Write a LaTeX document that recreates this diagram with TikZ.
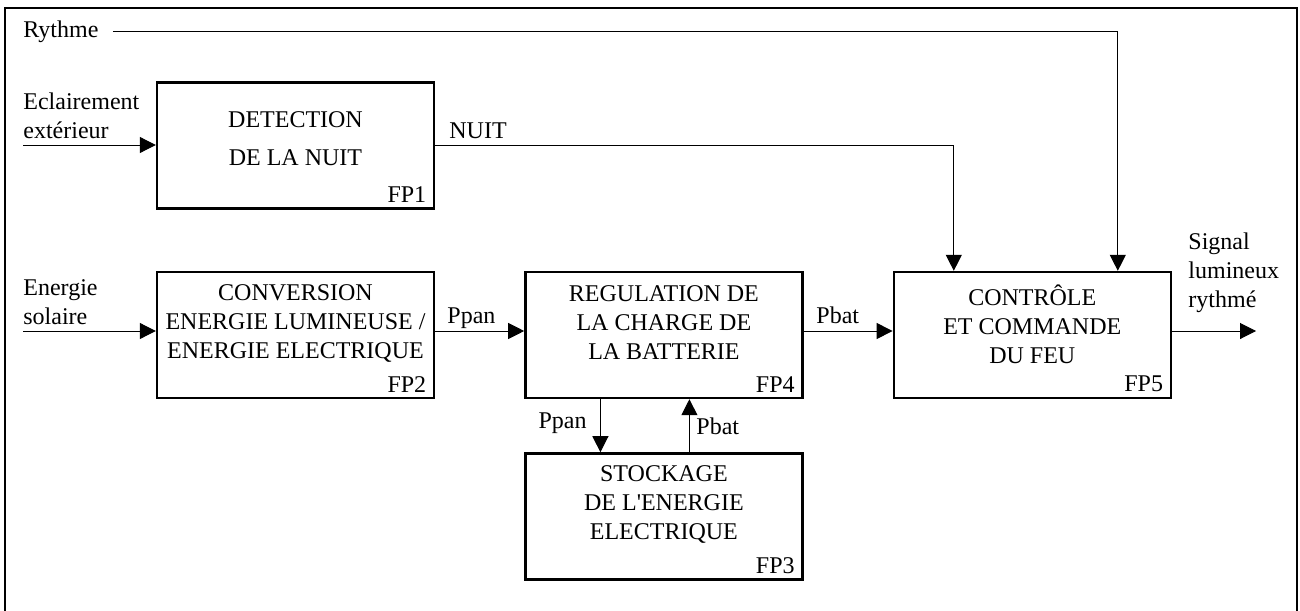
\documentclass[tikz,border=0pt]{standalone}
\usepackage{fontspec}
\setmainfont{Liberation Serif}
\usetikzlibrary{arrows.meta, positioning}

\begin{document}
\begin{tikzpicture}[x=0.5pt, y=-0.5pt, node distance=44.5pt,
  font=\fontsize{12}{14.5}\selectfont,
  box/.style={
    rectangle, draw, line width=1.2pt,
    minimum width=138.5pt, minimum height=63pt
  },
  boxtxt/.style={align=center, inner sep=0pt},
  tag/.style={anchor=south east, inner sep=3.3pt, xshift=-1pt},
  lbl/.style={align=left, inner sep=0pt},
  arr/.style={-{Triangle[length=8pt, width=8pt]}, line width=0.5pt}
]
  \useasboundingbox (0,0) rectangle (1300,610);
  \draw[line width=1.4pt] (5,8) rectangle (1297,616);

  % blocs fonctionnels
  \node[box] (fp2) at (295.5,335) {};
  \node[box, above=30.5pt of fp2] (fp1) {};
  \node[box, right=of fp2] (fp4) {};
  \node[box, below=26.5pt of fp4] (fp3) {};
  \node[box, right=of fp4] (fp5) {};

  \node[boxtxt] (fp1t) at ([yshift=3.5pt]fp1.center) {DETECTION\\[4.5pt]DE LA NUIT};
  \node[boxtxt] (fp2t) at ([yshift=6pt]fp2.center) {CONVERSION\\ENERGIE LUMINEUSE /\\ENERGIE ELECTRIQUE};
  \node[boxtxt] (fp4t) at ([yshift=6pt]fp4.center) {REGULATION DE\\LA CHARGE DE\\LA BATTERIE};
  \node[boxtxt] (fp3t) at ([yshift=6pt]fp3.center) {STOCKAGE\\DE L\textquotesingle ENERGIE\\ELECTRIQUE};
  \node[boxtxt] (fp5t) at ([yshift=5.5pt]fp5.center) {CONTR\^OLE\\ET COMMANDE\\DU FEU};

  \node[tag] (fp1n) at (fp1.south east) {FP1};
  \node[tag] (fp2n) at (fp2.south east) {FP2};
  \node[tag] (fp3n) at (fp3.south east) {FP3};
  \node[tag] (fp4n) at (fp4.south east) {FP4};
  \node[tag] (fp5n) at (fp5.south east) {FP5};

  % entrees / sorties
  \node[lbl, anchor=west] (rythme) at (23,32) {Rythme};
  \node[lbl, anchor=north west] (eclair) at (23,92) {Eclairement\\extérieur};
  \node[lbl, anchor=north west] (energie) at (23,279) {Energie\\solaire};
  \node[lbl, anchor=north west] (signal) at (1188,232) {Signal\\lumineux\\rythmé};

  \coordinate (eclin) at (23,145);
  \coordinate (enin) at (23,331);
  \coordinate (sout) at (1256,331);

  \draw[arr] (eclin) -- (eclin -| fp1.west);
  \draw[arr] (enin) -- (enin -| fp2.west);
  \draw[arr] (enin -| fp2.east) -- (enin -| fp4.west);
  \draw[arr] (enin -| fp4.east) -- (enin -| fp5.west);
  \draw[arr] (sout -| fp5.east) -- (sout);

  \draw[arr] ([xshift=-31.75pt]fp4.south) -- ([xshift=-31.75pt]fp3.north);
  \draw[arr] ([xshift=12.75pt]fp3.north) -- ([xshift=12.75pt]fp4.south);

  \draw[arr] (eclin -| fp1.east) -| ([xshift=-39.25pt]fp5.north);
  \draw[arr] ([xshift=7pt]rythme.east) -| ([xshift=42.75pt]fp5.north);

  % grandeurs
  \node[lbl, anchor=base west] (nuit) at (449,139) {NUIT};
  \node[lbl, anchor=base west] (ppan) at (447,323) {Ppan};
  \node[lbl, anchor=base west] (pbat) at (816,323) {Pbat};
  \node[lbl, anchor=base east] (ppan2) at (587,428) {Ppan};
  \node[lbl, anchor=base west] (pbat2) at (696,434) {Pbat};
\end{tikzpicture}
\end{document}
